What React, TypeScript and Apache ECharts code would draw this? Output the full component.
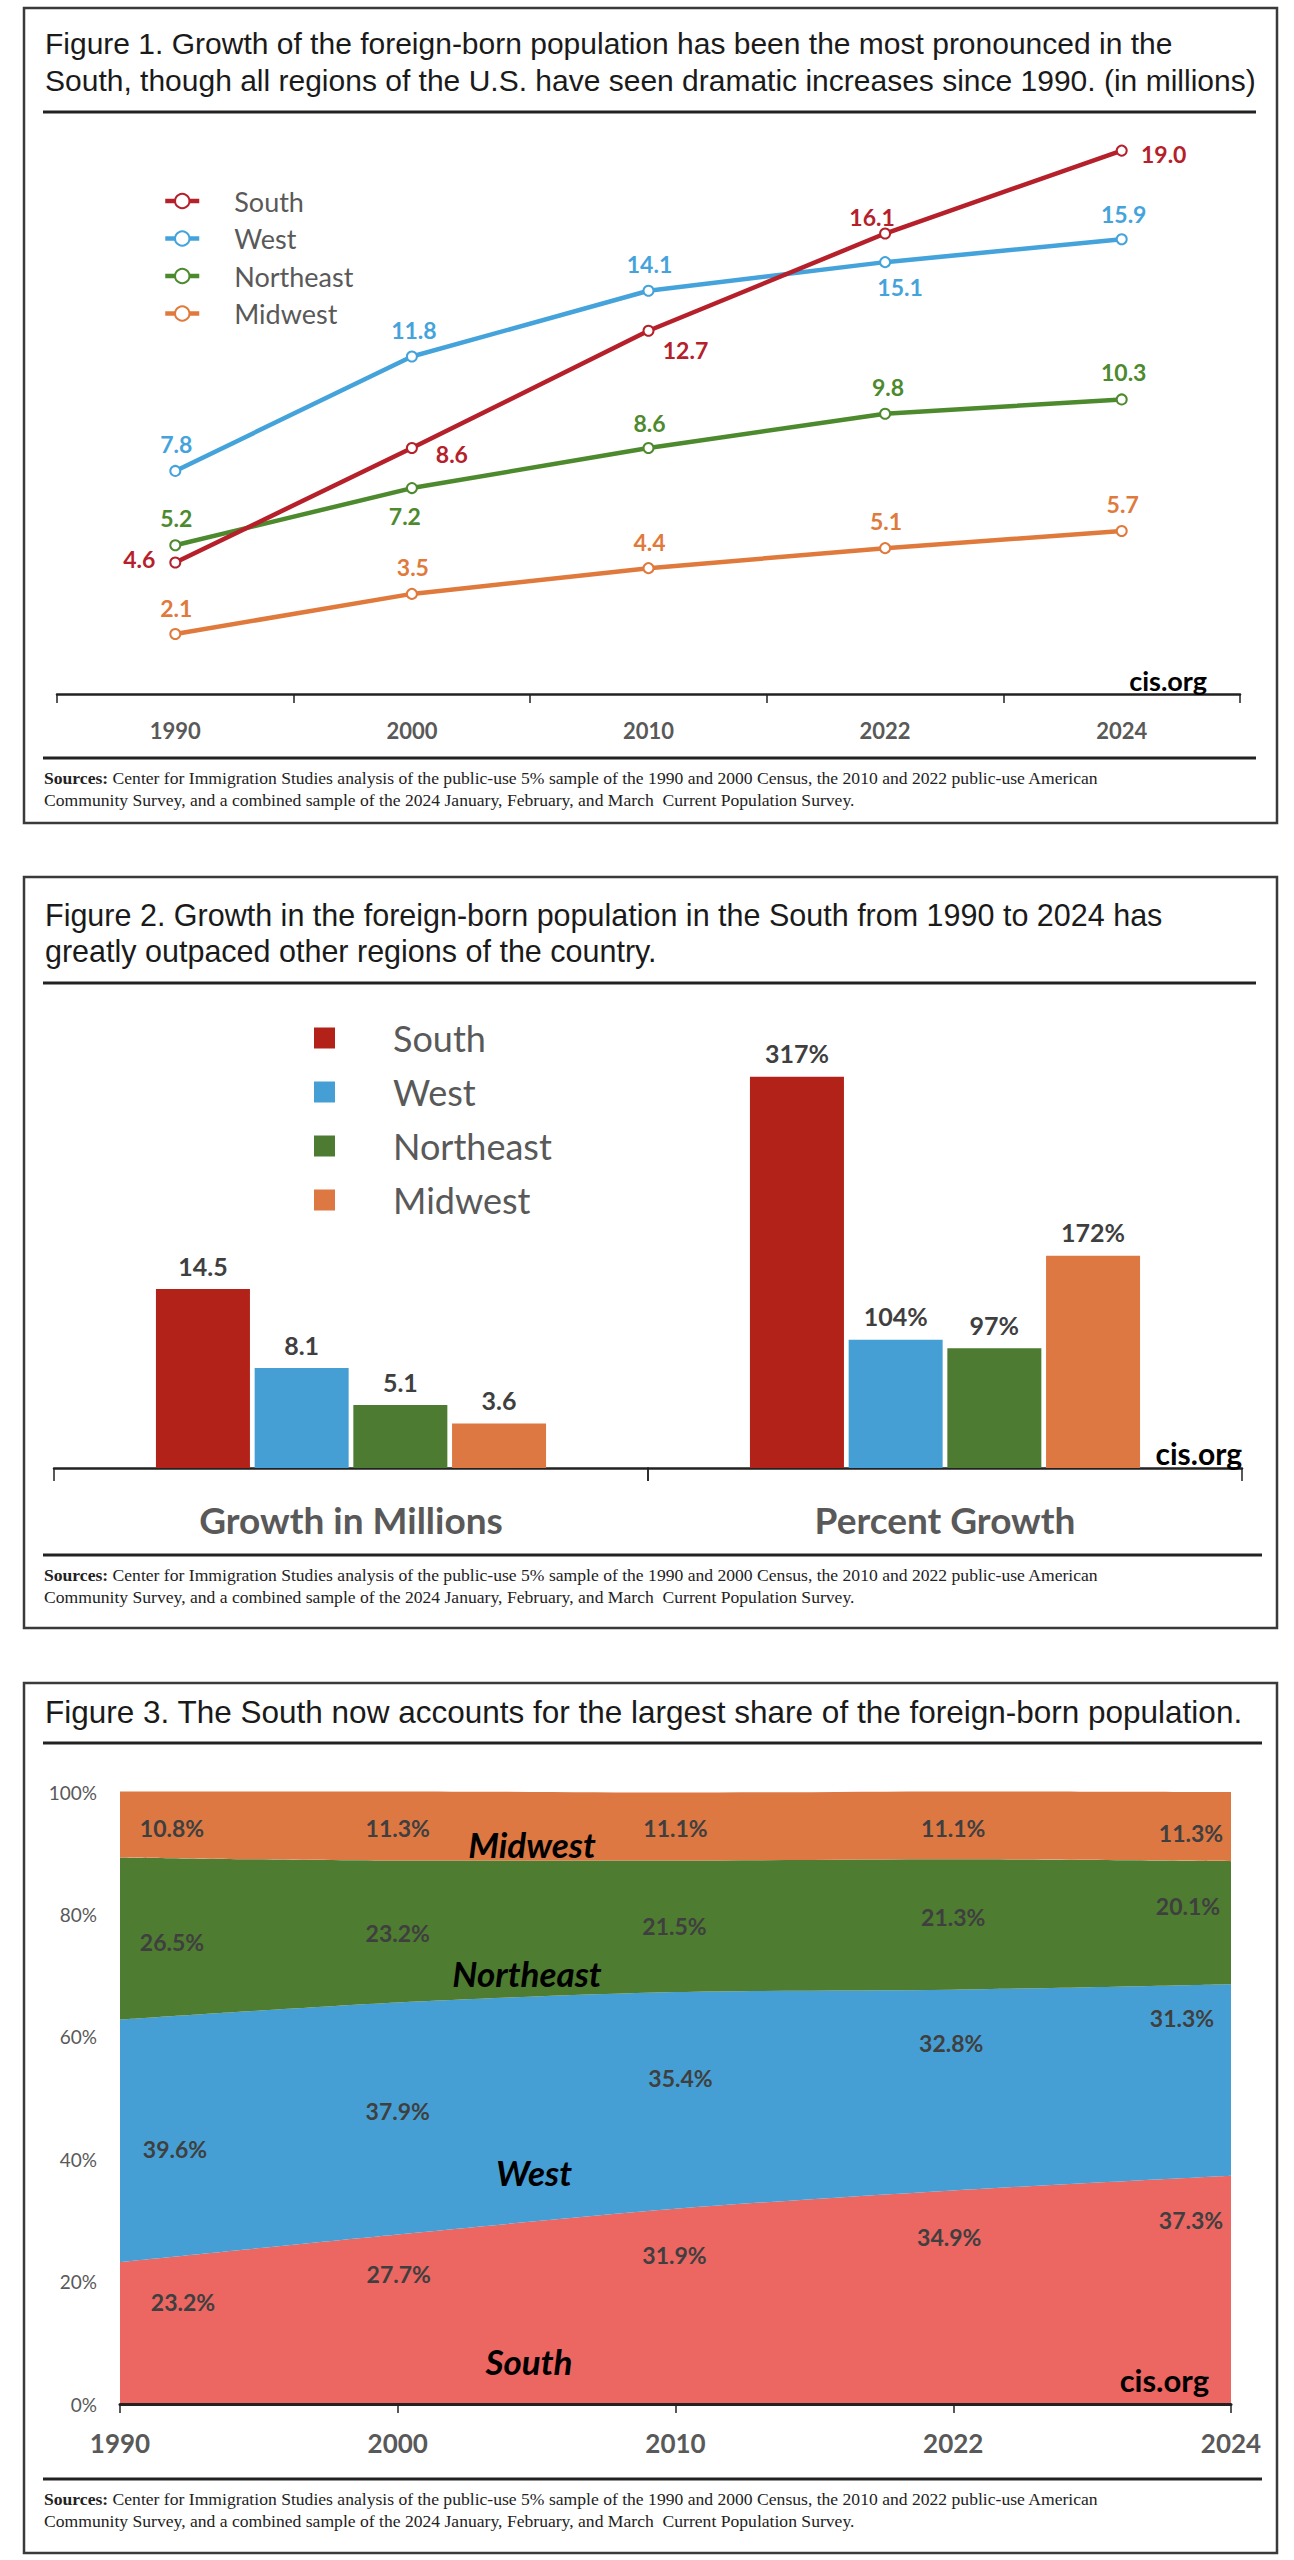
import React, { useEffect, useRef } from "react";
import * as echarts from "echarts";

// ---------- data ----------
const years = ["1990", "2000", "2010", "2022", "2024"];
const regionNames = ["South", "West", "Northeast", "Midwest"];

const southPop = [4.6, 8.6, 12.7, 16.1, 19.0];
const westPop = [7.8, 11.8, 14.1, 15.1, 15.9];
const northeastPop = [5.2, 7.2, 8.6, 9.8, 10.3];
const midwestPop = [2.1, 3.5, 4.4, 5.1, 5.7];

const growthCategoriesA = ["Growth in Millions"];
const growthCategoriesB = ["Percent Growth"];
const growthMillions = [14.5, 8.1, 5.1, 3.6];
const growthPercent = [317, 104, 97, 172];

const southShare = [23.2, 27.7, 31.9, 34.9, 37.3];
const westShare = [39.6, 37.9, 35.4, 32.8, 31.3];
const northeastShare = [26.5, 23.2, 21.5, 21.3, 20.1];
const midwestShare = [10.8, 11.3, 11.1, 11.1, 11.3];

// ---------- styles ----------
const fig1Colors = ["#B5202A", "#45A3DC", "#4D8A2E", "#E07A3C"];
const fig2Colors = ["#B22218", "#459ED4", "#4D7B31", "#DD7843"];
const fig3Colors = ["#EC6662", "#459FD4", "#4E7C31", "#DD7843"];

const fig1Offsets = [
  [[-36, -3], [40, 6], [37, 19], [-13, -17], [42, 3]],
  [[1, -27], [2, -27], [1, -27], [15, 25], [2, -25]],
  [[1, -27], [-7, 28], [1, -25], [3, -27], [2, -27]],
  [[1, -26], [1, -27], [1, -26], [1, -27], [1, -27]],
];
const fig3Offsets = [
  [[63, 40], [1, 40], [-1, 46], [-4, 47], [-40, 44]],
  [[55, 129], [0, 108], [5, 86], [-2, 53], [-49, 34]],
  [[52, 85], [0, 72], [-1, 65], [0, 58], [-43, 45]],
  [[52, 37], [0, 37], [0, 35], [0, 37], [-40, 41]],
];

const SRC_LINE1 =
  "Center for Immigration Studies analysis of the public-use 5% sample of the 1990 and 2000 Census, the 2010 and 2022 public-use American";
const SRC_LINE2 =
  "Community Survey, and a combined sample of the 2024 January, February, and March  Current Population Survey.";

const W = 1294;

function boxRect(y1: number, y2: number) {
  return {
    type: "rect",
    shape: { x: 24, y: y1, width: 1253, height: y2 - y1 },
    style: { fill: "none", stroke: "#3a3a3a", lineWidth: 2.5 },
    silent: true,
  };
}
function rule(y: number, x2 = 1258) {
  return {
    type: "line",
    shape: { x1: 43, y1: y, x2, y2: y },
    style: { stroke: "#222", lineWidth: 3 },
    silent: true,
  };
}
function titleText(text: string, yTop: number, size: number, lh: number) {
  return {
    type: "text",
    x: 45,
    y: yTop,
    style: {
      text,
      fontFamily: '"Liberation Sans", Arial, sans-serif',
      fontSize: size,
      lineHeight: lh,
      fill: "#1a1a1a",
      verticalAlign: "top",
    },
    silent: true,
  };
}
function sourcesText(yTop: number) {
  return {
    type: "text",
    x: 44,
    y: yTop,
    style: {
      text: "{b|Sources:} " + SRC_LINE1 + "\n" + SRC_LINE2,
      fontFamily: '"Liberation Serif", serif',
      fontSize: 17.6,
      lineHeight: 22,
      fill: "#222",
      verticalAlign: "top",
      rich: {
        b: {
          fontFamily: '"Liberation Serif", serif',
          fontWeight: "bold",
          fontSize: 17.6,
          lineHeight: 22,
          fill: "#222",
        },
      },
    },
    silent: true,
  };
}
function cisText(xRight: number, yCenter: number, size: number) {
  return {
    type: "text",
    x: xRight,
    y: yCenter,
    z: 100,
    style: {
      text: "cis.org",
      fontFamily: "Lato",
      fontWeight: "bold",
      fontSize: size,
      fill: "#000",
      align: "right",
      verticalAlign: "middle",
    },
    silent: true,
  };
}

function useChart(ref: React.RefObject<HTMLDivElement>, makeOption: () => any) {
  useEffect(() => {
    if (!ref.current) return;
    const chart = echarts.init(ref.current, undefined, { renderer: "svg" });
    chart.setOption(makeOption());
    return () => chart.dispose();
  }, []);
}

// ---------- Figure 1 ----------
function fig1Option() {
  const pops = [southPop, westPop, northeastPop, midwestPop];
  return {
    animation: false,
    backgroundColor: "#fff",
    grid: { left: 57, right: W - 1240, top: 122, bottom: 840 - 694 },
    legend: {
      orient: "vertical",
      left: 158,
      top: 182,
      itemWidth: 34,
      itemHeight: 18,
      itemGap: 9.5,
      data: regionNames,
      lineStyle: { width: 4.5 },
      textStyle: {
        fontFamily: "Lato",
        fontSize: 27,
        lineHeight: 28,
        color: "#595959",
        padding: [0, 0, 0, 30],
      },
    },
    xAxis: {
      type: "category",
      data: years,
      boundaryGap: true,
      axisLine: { lineStyle: { color: "#222", width: 2.5 } },
      axisTick: { show: true, length: 9, lineStyle: { color: "#222", width: 1.5 } },
      axisLabel: {
        margin: 25,
        fontFamily: "Lato",
        fontWeight: "bold",
        fontSize: 22,
        color: "#595959",
      },
    },
    yAxis: { type: "value", min: 0, max: 20, show: false },
    series: pops.map((vals, i) => ({
      name: regionNames[i],
      type: "line",
      data: vals.map((v, j) => ({
        value: v,
        label: { offset: fig1Offsets[i][j] },
      })),
      symbol: "circle",
      symbolSize: 10,
      showAllSymbol: true,
      lineStyle: { color: fig1Colors[i], width: 4.5 },
      itemStyle: { color: "#fff", borderColor: fig1Colors[i], borderWidth: 2 },
      z: 10 - i,
      label: {
        show: true,
        position: "inside",
        formatter: (p: any) => Number(p.value).toFixed(1),
        color: fig1Colors[i],
        fontFamily: "Lato",
        fontWeight: "bold",
        fontSize: 23,
      },
    })),
    graphic: [
      boxRect(8, 823),
      titleText(
        "Figure 1. Growth of the foreign-born population has been the most pronounced in the\nSouth, though all regions of the U.S. have seen dramatic increases since 1990. (in millions)",
        24.5,
        30,
        37
      ),
      rule(112, 1256),
      cisText(1207, 680, 27),
      rule(758, 1256),
      sourcesText(767),
    ],
  };
}

// ---------- Figure 2 ----------
function fig2Option() {
  const series: any[] = [];
  const barLabel = (fmt: string) => ({
    show: true,
    position: "top",
    distance: 11,
    formatter: fmt,
    color: "#3f3f3f",
    fontFamily: "Lato",
    fontWeight: "bold",
    fontSize: 25,
  });
  regionNames.forEach((name, i) => {
    series.push({
      name,
      type: "bar",
      xAxisIndex: 0,
      yAxisIndex: 0,
      data: [growthMillions[i]],
      barWidth: 94,
      barGap: "5%",
      itemStyle: { color: fig2Colors[i] },
      label: barLabel("{c}"),
    });
  });
  regionNames.forEach((name, i) => {
    series.push({
      name,
      type: "bar",
      xAxisIndex: 1,
      yAxisIndex: 1,
      data: [growthPercent[i]],
      barWidth: 94,
      barGap: "5%",
      itemStyle: { color: fig2Colors[i] },
      label: barLabel("{c}%"),
    });
  });
  const xAxisCommon = {
    type: "category",
    boundaryGap: true,
    axisLine: { lineStyle: { color: "#222", width: 2.5 } },
    axisTick: { show: true, length: 13, lineStyle: { color: "#222", width: 1.5 } },
    axisLabel: {
      margin: 33,
      fontFamily: "Lato",
      fontWeight: "bold",
      fontSize: 37,
      color: "#595959",
    },
  };
  return {
    animation: false,
    backgroundColor: "#fff",
    grid: [
      { left: 54, width: 594, top: 196, height: 432 },
      { left: 648, width: 594, top: 196, height: 432 },
    ],
    legend: {
      orient: "vertical",
      left: 309,
      top: 175,
      itemWidth: 21,
      itemHeight: 21,
      itemGap: 18,
      icon: "rect",
      data: regionNames,
      textStyle: {
        fontFamily: "Lato",
        fontSize: 36,
        lineHeight: 36,
        color: "#595959",
        padding: [0, 0, 0, 53],
      },
    },
    xAxis: [
      { ...xAxisCommon, gridIndex: 0, data: growthCategoriesA },
      { ...xAxisCommon, gridIndex: 1, data: growthCategoriesB },
    ],
    yAxis: [
      { type: "value", gridIndex: 0, min: 0, max: 35, show: false },
      { type: "value", gridIndex: 1, min: 0, max: 350, show: false },
    ],
    series,
    graphic: [
      boxRect(37, 788),
      titleText(
        "Figure 2. Growth in the foreign-born population in the South from 1990 to 2024 has\ngreatly outpaced other regions of the country.",
        57,
        30.5,
        36
      ),
      rule(143, 1256),
      cisText(1242, 613, 30),
      rule(715, 1262),
      sourcesText(724),
    ],
  };
}

// ---------- Figure 3 ----------
function fig3Option() {
  const shares = [southShare, westShare, northeastShare, midwestShare];
  const regionLabel = (text: string, x: number, y: number) => ({
    type: "text",
    x,
    y,
    z: 100,
    style: {
      text,
      fontFamily: "Lato",
      fontWeight: "bold",
      fontStyle: "italic",
      fontSize: 35,
      fill: "#000",
      align: "center",
      verticalAlign: "middle",
    },
    silent: true,
  });
  return {
    animation: false,
    backgroundColor: "#fff",
    grid: { left: 120, right: W - 1231, top: 152, height: 612 },
    xAxis: {
      type: "category",
      data: years,
      boundaryGap: false,
      axisLine: { lineStyle: { color: "#222", width: 3 } },
      axisTick: { show: true, length: 9, lineStyle: { color: "#222", width: 1.5 } },
      axisLabel: {
        margin: 26,
        fontFamily: "Lato",
        fontWeight: "bold",
        fontSize: 26,
        color: "#595959",
      },
      z: 10,
    },
    yAxis: {
      type: "value",
      min: 0,
      max: 100,
      interval: 20,
      axisLine: { show: false },
      axisTick: { show: false },
      splitLine: { show: false },
      axisLabel: {
        formatter: "{value}%",
        margin: 23,
        fontFamily: "Lato",
        fontSize: 19,
        color: "#595959",
      },
    },
    series: shares.map((vals, i) => ({
      name: regionNames[i],
      type: "line",
      stack: "share",
      smooth: 0.3,
      clip: false,
      data: vals.map((v, j) => ({ value: v, label: { offset: fig3Offsets[i][j] } })),
      symbol: "circle",
      symbolSize: 1,
      showAllSymbol: true,
      itemStyle: { color: "rgba(0,0,0,0)" },
      lineStyle: { width: 0, color: fig3Colors[i] },
      areaStyle: { color: fig3Colors[i], opacity: 1 },
      label: {
        show: true,
        position: "inside",
        formatter: (p: any) => Number(p.value).toFixed(1) + "%",
        color: "#3f3f3f",
        fontFamily: "Lato",
        fontWeight: "bold",
        fontSize: 23,
      },
    })),
    graphic: [
      boxRect(43, 913),
      titleText(
        "Figure 3. The South now accounts for the largest share of the foreign-born population.",
        53,
        31.5,
        37
      ),
      rule(103, 1262),
      regionLabel("Midwest", 532, 204),
      regionLabel("Northeast", 527, 333),
      regionLabel("West", 534, 532),
      regionLabel("South", 529, 721),
      cisText(1209, 740, 31),
      rule(839, 1262),
      sourcesText(848),
    ],
  };
}

function Fig({ top, height, makeOption }: { top: number; height: number; makeOption: () => any }) {
  const ref = useRef<HTMLDivElement>(null);
  useChart(ref as any, makeOption);
  return (
    <div
      ref={ref}
      style={{ position: "absolute", left: 0, top, width: W, height }}
    />
  );
}

export default function App() {
  return (
    <div
      style={{
        position: "absolute",
        left: 0,
        top: 0,
        width: W,
        height: 2560,
        background: "#fff",
      }}
    >
      <Fig top={0} height={840} makeOption={fig1Option} />
      <Fig top={840} height={800} makeOption={fig2Option} />
      <Fig top={1640} height={920} makeOption={fig3Option} />
    </div>
  );
}
